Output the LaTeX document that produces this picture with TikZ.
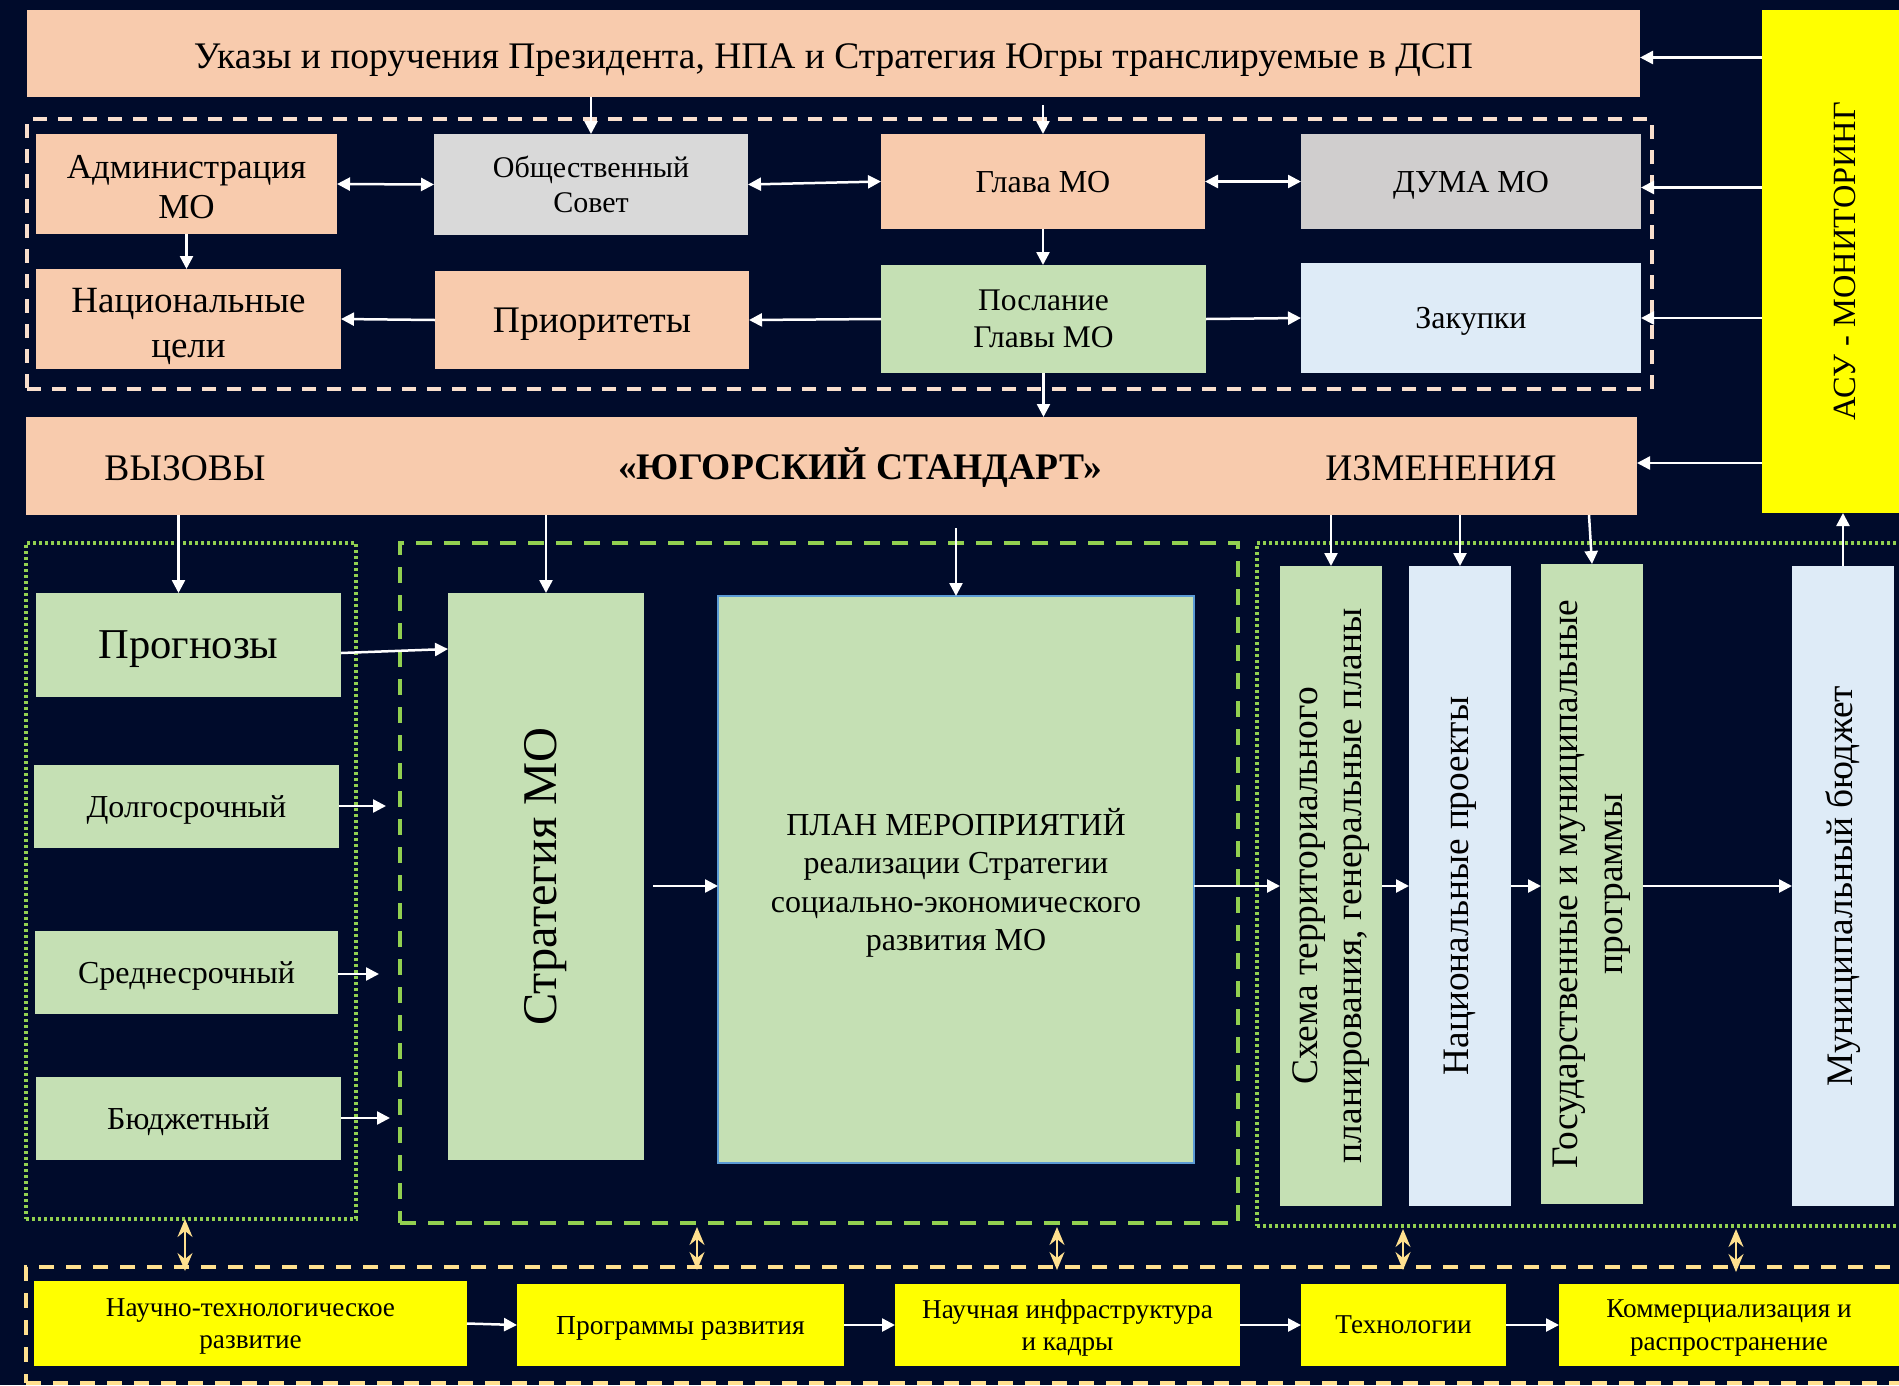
\documentclass[tikz,border=0pt]{standalone}
\usepackage{fontspec}
\setmainfont{Liberation Serif}
\usetikzlibrary{arrows.meta,calc}
\definecolor{bg}{RGB}{0,11,43}
\definecolor{salmon}{HTML}{F8CBAD}
\definecolor{lgreen}{HTML}{C5E0B4}
\definecolor{lblue}{HTML}{DEEBF7}
\definecolor{grayA}{HTML}{D9D9D9}
\definecolor{grayB}{HTML}{D0CECE}
\definecolor{yel}{HTML}{FFFF00}
\definecolor{peach}{HTML}{F9DFCD}
\definecolor{grn}{HTML}{92D050}
\definecolor{gold}{HTML}{FFE08F}
\definecolor{planborder}{HTML}{5B9BD5}
\newcommand\fs[2]{\fontsize{#1}{#2}\selectfont}
\begin{document}
\begin{tikzpicture}[x=1pt,y=-1pt,
  box/.style={inner sep=0pt, outer sep=0pt, anchor=north west, align=center, text=black, text depth=0pt},
  frame/.style={inner sep=0pt, outer sep=0pt, anchor=north west},
  arr/.style={draw=white, line width=2.5pt, -{Triangle[length=13pt,width=13pt]}},
  darr/.style={draw=white, line width=2.5pt, {Triangle[length=13pt,width=13pt]}-{Triangle[length=13pt,width=13pt]}},
  garr/.style={draw=gold, line width=2pt, {Stealth[length=18pt,width=15pt,inset=6pt]}-{Stealth[length=18pt,width=15pt,inset=6pt]}},
  vtext/.style={rotate=90, align=center, inner sep=0pt, text=black},
  htext/.style={inner sep=0pt, text=black, text depth=0pt},
  lower/.style={text height=#1},
]
\useasboundingbox (0,0) rectangle (1899,1385);
\clip (0,0) rectangle (1899,1385);
\fill[bg] (0,0) rectangle (1899,1385);

% ---------- frames ----------
\node[frame, draw=peach, line width=4pt, dash pattern=on 14pt off 11pt, minimum width=1625pt, minimum height=270pt] (topgrp) at (27,119) {};
\node[frame, draw=grn, line width=3.5pt, dash pattern=on 3pt off 3pt, minimum width=330pt, minimum height=676pt] (leftg) at (26,543) {};
\node[frame, draw=grn, line width=4pt, dash pattern=on 16pt off 12pt, minimum width=838pt, minimum height=680pt] (midg) at (400,543) {};
\node[frame, draw=grn, line width=3.5pt, dash pattern=on 3pt off 3pt, minimum width=680pt, minimum height=683pt] (rightg) at (1257,543) {};
\node[frame, draw=gold, line width=4pt, dash pattern=on 15pt off 12pt, minimum width=1900pt, minimum height=116pt] (botg) at (26,1267) {};

% ---------- top section ----------
\node[box, fill=salmon, minimum width=1613pt, minimum height=87pt] (top) at (27,10) {};
\node[htext, font=\fs{37.5}{42}] (topT) at ([yshift=-3pt]top.center) {Указы и поручения Президента, НПА и Стратегия Югры транслируемые в ДСП};
\node[box, fill=yel, minimum width=150pt, minimum height=503pt] (asu) at (1762,10) {};
\node[vtext, font=\fs{32.4}{36}] (asuT) at (1845,261) {АСУ - МОНИТОРИНГ};

\node[box, fill=salmon, minimum width=301pt, minimum height=100pt] (admin) at (36,134) {};
\node[htext, align=center, font=\fs{35}{40}] (adminT) at ([yshift=-3pt]admin.center) {Администрация\\МО};
\node[box, fill=grayA, minimum width=314pt, minimum height=101pt, font=\fs{30}{35}] (obsh) at (434,134) {Общественный\\Совет};
\node[box, fill=salmon, minimum width=324pt, minimum height=95pt, font=\fs{32}{36}] (glava) at (881,134) {Глава МО};
\node[box, fill=grayB, minimum width=340pt, minimum height=95pt, font=\fs{32}{36}] (duma) at (1301,134) {ДУМА МО};
\node[box, fill=salmon, minimum width=305pt, minimum height=100pt] (nac) at (36,269) {};
\node[htext, align=center, font=\fs{37}{45}] (nacT) at ([yshift=-4pt]nac.center) {Национальные\\цели};
\node[box, fill=salmon, minimum width=314pt, minimum height=98pt, font=\fs{37.5}{40}] (prior) at (435,271) {Приоритеты};
\node[box, fill=lgreen, minimum width=325pt, minimum height=108pt, font=\fs{31.5}{37}] (posl) at (881,265) {Послание\\Главы МО};
\node[box, fill=lblue, minimum width=340pt, minimum height=110pt, font=\fs{32}{36}] (zak) at (1301,263) {Закупки};

% ---------- standard ----------
\node[box, fill=salmon, minimum width=1611pt, minimum height=98pt] (ys) at (26,417) {};
\node[htext, font=\fs{37.5}{42}] (ysA) at (185,468) {ВЫЗОВЫ};
\node[htext, font=\fs{37.5}{42}\bfseries] (ysB) at (860,464) {«ЮГОРСКИЙ СТАНДАРТ»};
\node[htext, font=\fs{37.5}{42}] (ysC) at (1441,468) {ИЗМЕНЕНИЯ};

% ---------- left column ----------
\node[box, fill=lgreen, minimum width=305pt, minimum height=104pt, font=\fs{42.5}{46}] (prog) at (36,593) {Прогнозы};
\node[box, fill=lgreen, minimum width=305pt, minimum height=83pt, font=\fs{32}{34}] (dolg) at (34,765) {Долгосрочный};
\node[box, fill=lgreen, minimum width=303pt, minimum height=83pt, font=\fs{32}{34}] (sred) at (35,931) {Среднесрочный};
\node[box, fill=lgreen, minimum width=305pt, minimum height=83pt, font=\fs{32}{34}] (budg) at (36,1077) {Бюджетный};

% ---------- middle ----------
\node[box, fill=lgreen, minimum width=196pt, minimum height=567pt] (strat) at (448,593) {};
\node[vtext, font=\fs{48.4}{52}] (stratT) at (strat.center) {Стратегия МО};
\node[box, fill=lgreen, draw=planborder, line width=2.5pt, minimum width=476pt, minimum height=567pt, font=\fs{32}{38.5}] (plan) at (718,596) {ПЛАН МЕРОПРИЯТИЙ\\реализации Стратегии\\социально-экономического\\развития МО};

% ---------- right columns ----------
\node[box, fill=lgreen, minimum width=102pt, minimum height=640pt] (schema) at (1280,566) {};
\node[vtext, font=\fs{37.5}{44}] (schemaT) at (schema.center) {Схема территориального\\планирования, генеральные планы};
\node[box, fill=lblue, minimum width=102pt, minimum height=640pt] (nacp) at (1409,566) {};
\node[vtext, font=\fs{37.3}{42}] (nacpT) at (nacp.center) {Национальные проекты};
\node[box, fill=lgreen, minimum width=102pt, minimum height=640pt] (gos) at (1541,564) {};
\node[vtext, font=\fs{37.4}{45}] (gosT) at (gos.center) {Государственные и муниципальные\\программы};
\node[box, fill=lblue, minimum width=102pt, minimum height=640pt] (mun) at (1792,566) {};
\node[vtext, font=\fs{37.4}{42}] (munT) at (mun.center) {Муниципальный бюджет};

% ---------- bottom ----------
\node[box, fill=yel, minimum width=433pt, minimum height=85pt, font=\fs{27.2}{32.5}] (nt) at (34,1281) {Научно-технологическое\\развитие};
\node[box, fill=yel, minimum width=327pt, minimum height=82pt, font=\fs{27.5}{32.5}] (pr) at (517,1284) {Программы развития};
\node[box, fill=yel, minimum width=345pt, minimum height=82pt, font=\fs{27.2}{32.5}] (ni) at (895,1284) {Научная инфраструктура\\и кадры};
\node[box, fill=yel, minimum width=205pt, minimum height=82pt, font=\fs{27.2}{32.5}] (tech) at (1301,1284) {Технологии};
\node[box, fill=yel, minimum width=340pt, minimum height=82pt, font=\fs{27.2}{32.5}] (kom) at (1559,1284) {Коммерциализация и\\распространение};

% ---------- connectors: top ----------
\draw[arr] (top.south -| obsh.north) -- (obsh.north);
\draw[arr, shorten <=8pt] (top.south -| glava.north) -- (glava.north);
\draw[darr] (admin.east) -- (obsh.west);
\draw[darr] (obsh.east) -- (glava.west);
\draw[darr] (glava.east) -- (duma.west);
\draw[arr] (admin.south) -- (nac.north -| admin.south);
\draw[arr] (glava.south) -- (posl.north -| glava.south);
\draw[arr] (prior.west) -- (nac.east);
\draw[arr] (posl.west) -- (prior.east);
\draw[arr] (posl.east) -- (zak.west);
\coordinate (a1) at ([yshift=-4pt]top.east);
\draw[arr] (a1 -| asu.west) -- (a1);
\coordinate (a2) at ([yshift=-6pt]duma.east);
\draw[arr] (a2 -| asu.west) -- (a2);
\draw[arr] (zak.east -| asu.west) -- (zak.east);
\coordinate (a4) at ([yshift=3pt]ys.east);
\draw[arr] (a4 -| asu.west) -- (a4);
\draw[arr] (posl.south) -- (ys.north -| posl.south);

% ---------- connectors: standard to lower ----------
\coordinate (p1) at ([xshift=-10pt]prog.north);
\draw[arr] (p1 |- ys.south) -- (p1);
\draw[arr] (ys.south -| strat.north) -- (strat.north);
\draw[arr, shorten <=13pt] (ys.south -| plan.north) -- (plan.north);
\draw[arr] (ys.south -| schema.north) -- (schema.north);
\draw[arr] (ys.south -| nacp.north) -- (nacp.north);
\coordinate (p2) at ([xshift=-3pt]gos.north);
\draw[arr] (p2 |- ys.south) -- (gos.north);
\draw[arr] (mun.north) -- (asu.south -| mun.north);

% ---------- connectors: middle row ----------
\coordinate (pa) at ([yshift=-8pt]prog.east);
\coordinate (lvl) at (0,649);
\draw[arr] (pa) -- (strat.west |- lvl);
\coordinate (e1) at (386,806);
\draw[arr] (dolg.east |- e1) -- (e1);
\coordinate (e2) at (379,974);
\draw[arr] (sred.east |- e2) -- (e2);
\coordinate (e3) at (390,1118);
\draw[arr] (budg.east |- e3) -- (e3);
\coordinate (row) at (0,886);
\coordinate (s1) at (653,886);
\draw[arr] (s1) -- (plan.west |- row);
\draw[arr] (plan.east |- row) -- (schema.west |- row);
\draw[arr] (schema.east |- row) -- (nacp.west |- row);
\draw[arr] (nacp.east |- row) -- (gos.west |- row);
\draw[arr] (gos.east |- row) -- (mun.west |- row);

% ---------- connectors: bottom ----------
\draw[arr] (nt.east) -- (pr.west);
\draw[arr] (pr.east) -- (ni.west);
\draw[arr] (ni.east) -- (tech.west);
\draw[arr] (tech.east) -- (kom.west);
\coordinate (g1) at (185,0);
\coordinate (g2) at (697,0);
\coordinate (g3) at (1057,0);
\coordinate (g4) at (1403,0);
\coordinate (g5) at (1736,0);
\draw[garr] (g1 |- leftg.south) -- ([yshift=-4pt]g1 |- botg.north);
\draw[garr] ([yshift=-4pt]g2 |- midg.south) -- ([yshift=-3pt]g2 |- botg.north);
\draw[garr] ([yshift=-4pt]g3 |- midg.south) -- ([yshift=-3pt]g3 |- botg.north);
\draw[garr] ([yshift=-3pt]g4 |- rightg.south) -- ([yshift=-3pt]g4 |- botg.north);
\draw[garr] ([yshift=-3pt]g5 |- rightg.south) -- ([yshift=-5pt]g5 |- botg.north);
\end{tikzpicture}
\end{document}
